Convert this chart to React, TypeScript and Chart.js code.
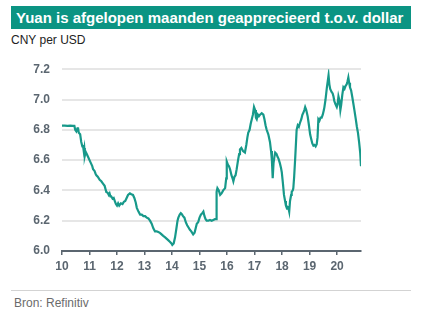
import React, { useEffect, useRef } from "react";
import Chart from "chart.js/auto";

const titleText = "Yuan is afgelopen maanden geapprecieerd t.o.v. dollar";
const unitText = "CNY per USD";
const sourceText = "Bron: Refinitiv";

const xTickLabels = ["10", "11", "12", "13", "14", "15", "16", "17", "18", "19", "20"];
const yTickLabels = ["6.0", "6.2", "6.4", "6.6", "6.8", "7.0", "7.2"];

const years = [
  10.0, 10.1, 10.2, 10.3, 10.4, 10.45, 10.48, 10.52, 10.56, 10.58, 10.61, 10.66, 10.7, 10.74, 10.76, 10.79,
  10.81, 10.83, 10.86, 10.9, 10.95, 11.0, 11.05, 11.1, 11.13, 11.18, 11.22, 11.25, 11.3, 11.37, 11.43, 11.49,
  11.55, 11.61, 11.66, 11.7, 11.73, 11.76, 11.79, 11.84, 11.88, 11.92, 11.96, 12.0, 12.04, 12.08, 12.14, 12.2,
  12.25, 12.3, 12.35, 12.4, 12.47, 12.52, 12.58, 12.63, 12.68, 12.72, 12.78, 12.84, 12.9, 12.96, 13.02, 13.08,
  13.14, 13.2, 13.26, 13.32, 13.38, 13.44, 13.5, 13.56, 13.62, 13.68, 13.75, 13.81, 13.87, 13.93, 13.98, 14.01,
  14.06, 14.11, 14.16, 14.2, 14.23, 14.28, 14.32, 14.35, 14.4, 14.45, 14.5, 14.55, 14.6, 14.65, 14.7, 14.77,
  14.82, 14.86, 14.9, 14.95, 15.0, 15.05, 15.1, 15.14, 15.18, 15.22, 15.26, 15.32, 15.38, 15.44, 15.5, 15.56,
  15.6, 15.62, 15.65, 15.7, 15.75, 15.8, 15.86, 15.93, 15.97, 15.99, 16.03, 16.07, 16.11, 16.16, 16.2, 16.23,
  16.27, 16.31, 16.35, 16.4, 16.44, 16.47, 16.52, 16.58, 16.65, 16.7, 16.74, 16.77, 16.82, 16.86, 16.9, 16.94,
  16.98, 17.02, 17.05, 17.08, 17.12, 17.16, 17.2, 17.26, 17.32, 17.36, 17.4, 17.44, 17.5, 17.56, 17.6, 17.63,
  17.66, 17.69, 17.72, 17.75, 17.8, 17.84, 17.87, 17.92, 17.96, 17.99, 18.03, 18.07, 18.11, 18.14, 18.18, 18.2,
  18.23, 18.26, 18.29, 18.33, 18.35, 18.39, 18.41, 18.44, 18.48, 18.53, 18.57, 18.61, 18.65, 18.7, 18.74, 18.77,
  18.81, 18.84, 18.88, 18.93, 18.97, 19.02, 19.06, 19.1, 19.14, 19.18, 19.22, 19.26, 19.29, 19.32, 19.36, 19.4,
  19.44, 19.48, 19.52, 19.54, 19.58, 19.63, 19.66, 19.69, 19.72, 19.75, 19.8, 19.84, 19.87, 19.9, 19.94, 19.99,
  20.02, 20.05, 20.09, 20.12, 20.15, 20.19, 20.23, 20.27, 20.31, 20.35, 20.38, 20.41, 20.44, 20.47, 20.51, 20.55,
  20.59, 20.63, 20.68, 20.72, 20.76, 20.8, 20.84, 20.87,
];

const rates = [
  6.827, 6.827, 6.826, 6.827, 6.826, 6.826, 6.8, 6.79, 6.81, 6.815, 6.78, 6.77, 6.72, 6.69, 6.7, 6.66,
  6.68, 6.63, 6.655, 6.64, 6.62, 6.6, 6.58, 6.56, 6.54, 6.53, 6.51, 6.5, 6.49, 6.47, 6.46, 6.445,
  6.43, 6.39, 6.385, 6.37, 6.38, 6.36, 6.36, 6.345, 6.35, 6.33, 6.31, 6.3, 6.315, 6.3, 6.315, 6.31,
  6.325, 6.33, 6.35, 6.37, 6.38, 6.375, 6.37, 6.35, 6.32, 6.285, 6.26, 6.24, 6.24, 6.23, 6.23, 6.22,
  6.215, 6.2, 6.18, 6.15, 6.13, 6.13, 6.125, 6.12, 6.11, 6.1, 6.09, 6.08, 6.07, 6.06, 6.05, 6.04,
  6.05, 6.09, 6.15, 6.2, 6.22, 6.24, 6.25, 6.245, 6.23, 6.22, 6.19, 6.17, 6.155, 6.14, 6.13, 6.11,
  6.12, 6.15, 6.18, 6.19, 6.22, 6.24, 6.25, 6.26, 6.23, 6.21, 6.2, 6.2, 6.205, 6.2, 6.205, 6.21,
  6.21, 6.39, 6.415, 6.4, 6.37, 6.38, 6.4, 6.415, 6.48, 6.59, 6.57, 6.56, 6.54, 6.5, 6.48, 6.46,
  6.49, 6.5, 6.54, 6.6, 6.64, 6.67, 6.68, 6.66, 6.65, 6.7, 6.75, 6.78, 6.8, 6.84, 6.87, 6.9,
  6.95, 6.93, 6.88, 6.87, 6.9, 6.89, 6.9, 6.91, 6.9, 6.87, 6.83, 6.8, 6.77, 6.72, 6.66, 6.6,
  6.48, 6.58, 6.62, 6.65, 6.64, 6.62, 6.61, 6.58, 6.55, 6.52, 6.45, 6.37, 6.33, 6.3, 6.28, 6.29,
  6.285, 6.26, 6.33, 6.37, 6.39, 6.4, 6.415, 6.49, 6.62, 6.8, 6.83, 6.82, 6.845, 6.87, 6.9, 6.91,
  6.93, 6.95, 6.93, 6.89, 6.84, 6.77, 6.74, 6.71, 6.695, 6.7, 6.69, 6.705, 6.75, 6.87, 6.86, 6.88,
  6.88, 6.9, 6.93, 6.95, 7.0, 7.08, 7.12, 7.16, 7.1, 7.07, 7.05, 7.04, 7.02, 6.99, 6.97, 6.95,
  6.97, 7.02, 6.99, 6.93, 6.965, 7.03, 7.08, 7.07, 7.09, 7.1, 7.12, 7.145, 7.11, 7.08, 7.06, 7.02,
  6.975, 6.93, 6.87, 6.82, 6.78, 6.72, 6.65, 6.56,
];

const FONT = "'Liberation Sans', Arial, Helvetica, sans-serif";
const TEAL = "#0b9483";
const LINE = "#17998a";
const AXIS = "#5b6670";

export default function App() {
  const canvasRef = useRef<HTMLCanvasElement | null>(null);

  useEffect(() => {
    if (!canvasRef.current) return;
    const xVals = xTickLabels.map(Number);
    const yVals = yTickLabels.map(Number);
    const chart = new Chart(canvasRef.current, {
      type: "line",
      data: {
        datasets: [
          {
            data: years.map((x, i) => ({ x, y: rates[i] })),
            borderColor: LINE,
            borderWidth: 2.2,
            pointRadius: 0,
            tension: 0,
            fill: false,
          },
        ],
      },
      options: {
        animation: false,
        responsive: false,
        maintainAspectRatio: false,
        layout: { padding: { top: 7.8, right: 19, left: 0, bottom: 0 } },
        plugins: { legend: { display: false }, tooltip: { enabled: false } },
        scales: {
          x: {
            type: "linear",
            min: xVals[0],
            max: 20.87,
            afterBuildTicks: (scale: any) => {
              scale.ticks = xVals.map((v) => ({ value: v }));
            },
            afterFit: (scale: any) => {
              scale.height = 30;
            },
            ticks: {
              stepSize: 1,
              includeBounds: false,
              autoSkip: false,
              maxRotation: 0,
              padding: 4,
              color: AXIS,
              font: { family: FONT, size: 12, weight: "bold" },
              callback: (v: any) => String(v),
            },
            grid: {
              drawOnChartArea: false,
              drawTicks: true,
              tickLength: 4,
              color: AXIS,
              lineWidth: 1.5,
            },
            border: { display: true, color: AXIS, width: 2 },
          },
          y: {
            type: "linear",
            min: yVals[0],
            max: yVals[yVals.length - 1],
            afterBuildTicks: (scale: any) => {
              scale.ticks = yVals.map((v) => ({ value: v }));
            },
            afterFit: (scale: any) => {
              scale.width = 62;
            },
            ticks: {
              stepSize: 0.2,
              padding: 12,
              color: AXIS,
              font: { family: FONT, size: 12, weight: "bold" },
              callback: (v: any) => Number(v).toFixed(1),
            },
            grid: { color: "#e6e6e6", lineWidth: 2, drawTicks: false },
            border: { display: false },
          },
        },
      },
    });
    return () => chart.destroy();
  }, []);

  return (
    <div style={{ position: "absolute", left: 0, top: 0, width: 423, height: 323, background: "#fff", fontFamily: FONT }}>
      <div
        style={{
          position: "absolute",
          left: 11,
          top: 6,
          width: 400,
          height: 23,
          background: TEAL,
          color: "#fff",
          fontWeight: "bold",
          fontSize: 15,
          lineHeight: "23px",
          paddingLeft: 5,
          boxSizing: "border-box",
          whiteSpace: "nowrap",
        }}
      >
        {titleText}
      </div>
      <div style={{ position: "absolute", left: 11, top: 33, fontSize: 12, color: "#222", lineHeight: "14px" }}>
        {unitText}
      </div>
      <canvas ref={canvasRef} width={380} height={231} style={{ position: "absolute", left: 0, top: 50, width: 380, height: 231 }} />
      <div style={{ position: "absolute", left: 11, top: 290, width: 400, height: 1, background: "#d3d3d3" }} />
      <div style={{ position: "absolute", left: 14, top: 296, fontSize: 12, color: "#6b6b6b", lineHeight: "14px" }}>
        {sourceText}
      </div>
    </div>
  );
}
